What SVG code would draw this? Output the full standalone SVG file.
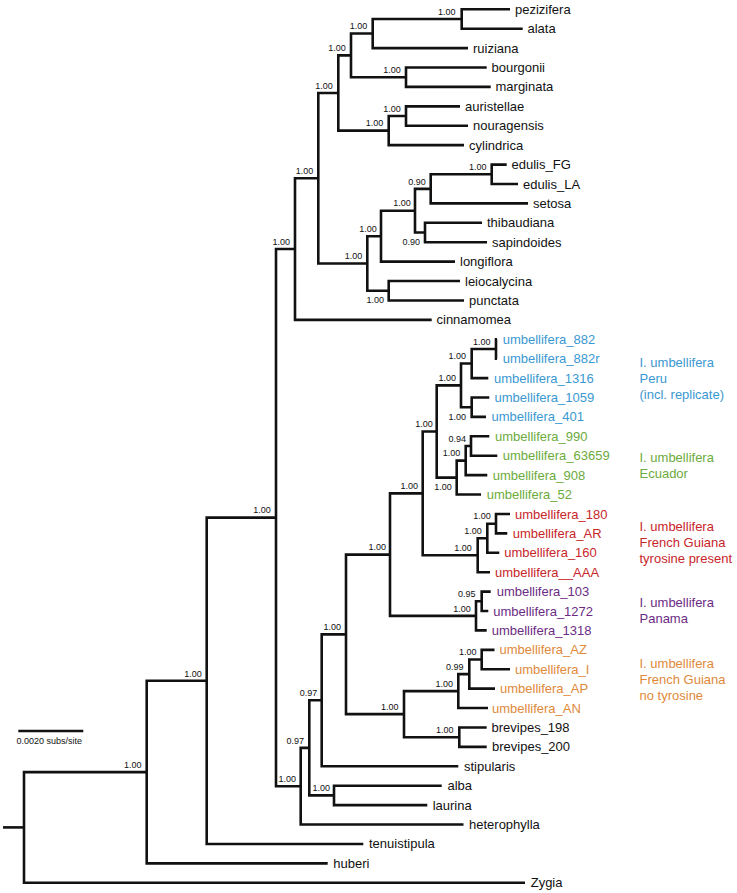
<svg xmlns="http://www.w3.org/2000/svg" width="737" height="893" viewBox="0 0 737 893">
<style>
.e{fill:none;stroke:#111;stroke-width:2.6;stroke-linejoin:miter;stroke-linecap:butt}
.t{font-family:"Liberation Sans",Arial,sans-serif;font-size:13px;fill:#111}
.s{font-family:"Liberation Sans",Arial,sans-serif;font-size:9px;fill:#111;text-anchor:end}
.sc{font-family:"Liberation Sans",Arial,sans-serif;font-size:9px;fill:#111}
.b{fill:#3a98d2}.g{fill:#6cab3c}.r{fill:#c8262a}.p{fill:#6c2c84}.o{fill:#e0893a}
</style>
<rect width="737" height="893" fill="#fff"/>
<g id="connectors">
<path class="e" d="M3,827.4H24"/>
<path class="e" d="M510,9.3H461.7V28.7H522.7"/>
<path class="e" d="M461.7,19H372.7V48.1H468"/>
<path class="e" d="M486.7,67.5H406V86.9H490.7"/>
<path class="e" d="M372.7,33.55H351V77.2H406"/>
<path class="e" d="M460,106.35H406V125.76H468"/>
<path class="e" d="M406,116.05H388.7V145.17H464"/>
<path class="e" d="M351,55.4H338.3V130.6H388.7"/>
<path class="e" d="M506.7,164.58H491.7V183.99H518"/>
<path class="e" d="M491.7,174.3H430.7V203.4H528"/>
<path class="e" d="M482,222.81H425V242.22H487"/>
<path class="e" d="M430.7,188.85H415V232.5H425"/>
<path class="e" d="M415,210.7H381V261.63H455"/>
<path class="e" d="M460,281.04H388.7V300.45H464"/>
<path class="e" d="M381,236.2H367.3V290.75H388.7"/>
<path class="e" d="M338.3,93H318.3V263.5H367.3"/>
<path class="e" d="M318.3,178.25H295V319.86H431.7"/>
<path class="e" d="M497,339.27H496V358.68H497"/>
<path class="e" d="M496,349H471.7V378.09H488.3"/>
<path class="e" d="M489.3,397.5H471.7V416.91H486"/>
<path class="e" d="M471.7,363.5H461V407.2H471.7"/>
<path class="e" d="M489.3,436.32H471V455.73H497.3"/>
<path class="e" d="M471,446H465.7V475.14H487.3"/>
<path class="e" d="M465.7,460.6H456.7V494.55H481"/>
<path class="e" d="M461,385.35H436.7V477.6H456.7"/>
<path class="e" d="M510,513.96H496V533.37H507.3"/>
<path class="e" d="M496,523.7H487.3V552.78H499.3"/>
<path class="e" d="M487.3,538.2H477.7V572.19H490"/>
<path class="e" d="M436.7,431.5H422.7V555.2H477.7"/>
<path class="e" d="M490.7,591.6H481.7V611.01H488.3"/>
<path class="e" d="M481.7,601.3H476V630.42H486.7"/>
<path class="e" d="M422.7,493.35H390V615.9H476"/>
<path class="e" d="M494.5,649.83H481.7V669.24H510"/>
<path class="e" d="M481.7,659.5H469.3V688.65H495"/>
<path class="e" d="M469.3,674.1H458.3V708.06H488"/>
<path class="e" d="M486.7,727.47H459.3V746.88H486.7"/>
<path class="e" d="M458.3,691.1H404V737.2H459.3"/>
<path class="e" d="M390,554.6H346V714.15H404"/>
<path class="e" d="M346,634.4H321.7V766.29H458.3"/>
<path class="e" d="M441.7,785.7H334V805.11H427.3"/>
<path class="e" d="M321.7,700.3H309.3V795.4H334"/>
<path class="e" d="M309.3,747.85H300.7V824.52H463.5"/>
<path class="e" d="M295,249.05H276V786.2H300.7"/>
<path class="e" d="M276,517.6H206.7V843.93H363.3"/>
<path class="e" d="M206.7,680.8H146.7V863.34H327.7"/>
<path class="e" d="M146.7,772.1H24V882.75H525"/>
<path class="e" d="M18.3,731H83.3"/>
</g>
<g id="scale"><text class="sc" x="16.5" y="743.8">0.0020 subs/site</text></g>
<g id="leaves">
<g id="leaf-pezizifera"><text class="t" x="515" y="13.8">pezizifera</text></g>
<g id="leaf-alata"><text class="t" x="527.5" y="33.2">alata</text></g>
<g id="leaf-ruiziana"><text class="t" x="473" y="52.6">ruiziana</text></g>
<g id="leaf-bourgonii"><text class="t" x="491.5" y="72">bourgonii</text></g>
<g id="leaf-marginata"><text class="t" x="495.5" y="91.4">marginata</text></g>
<g id="leaf-auristellae"><text class="t" x="465" y="110.8">auristellae</text></g>
<g id="leaf-nouragensis"><text class="t" x="473" y="130.3">nouragensis</text></g>
<g id="leaf-cylindrica"><text class="t" x="469" y="149.7">cylindrica</text></g>
<g id="leaf-edulis_FG"><text class="t" x="511.5" y="169.1">edulis_FG</text></g>
<g id="leaf-edulis_LA"><text class="t" x="523" y="188.5">edulis_LA</text></g>
<g id="leaf-setosa"><text class="t" x="533" y="207.9">setosa</text></g>
<g id="leaf-thibaudiana"><text class="t" x="487" y="227.3">thibaudiana</text></g>
<g id="leaf-sapindoides"><text class="t" x="492" y="246.7">sapindoides</text></g>
<g id="leaf-longiflora"><text class="t" x="460" y="266.1">longiflora</text></g>
<g id="leaf-leiocalycina"><text class="t" x="465" y="285.5">leiocalycina</text></g>
<g id="leaf-punctata"><text class="t" x="469" y="305">punctata</text></g>
<g id="leaf-cinnamomea"><text class="t" x="436.5" y="324.4">cinnamomea</text></g>
<g id="leaf-umbellifera_882"><text class="t b" x="502.7" y="343.8">umbellifera_882</text></g>
<g id="leaf-umbellifera_882r"><text class="t b" x="502.7" y="363.2">umbellifera_882r</text></g>
<g id="leaf-umbellifera_1316"><text class="t b" x="494" y="382.6">umbellifera_1316</text></g>
<g id="leaf-umbellifera_1059"><text class="t b" x="494.5" y="402">umbellifera_1059</text></g>
<g id="leaf-umbellifera_401"><text class="t b" x="491.5" y="421.4">umbellifera_401</text></g>
<g id="leaf-umbellifera_990"><text class="t g" x="495" y="440.8">umbellifera_990</text></g>
<g id="leaf-umbellifera_63659"><text class="t g" x="502.7" y="460.2">umbellifera_63659</text></g>
<g id="leaf-umbellifera_908"><text class="t g" x="492.7" y="479.6">umbellifera_908</text></g>
<g id="leaf-umbellifera_52"><text class="t g" x="486.7" y="499.1">umbellifera_52</text></g>
<g id="leaf-umbellifera_180"><text class="t r" x="515" y="518.5">umbellifera_180</text></g>
<g id="leaf-umbellifera_AR"><text class="t r" x="512.7" y="537.9">umbellifera_AR</text></g>
<g id="leaf-umbellifera_160"><text class="t r" x="504.3" y="557.3">umbellifera_160</text></g>
<g id="leaf-umbellifera__AAA"><text class="t r" x="495" y="576.7">umbellifera__AAA</text></g>
<g id="leaf-umbellifera_103"><text class="t p" x="496.7" y="596.1">umbellifera_103</text></g>
<g id="leaf-umbellifera_1272"><text class="t p" x="493.3" y="615.5">umbellifera_1272</text></g>
<g id="leaf-umbellifera_1318"><text class="t p" x="491.7" y="634.9">umbellifera_1318</text></g>
<g id="leaf-umbellifera_AZ"><text class="t o" x="499.5" y="654.3">umbellifera_AZ</text></g>
<g id="leaf-umbellifera_I"><text class="t o" x="515" y="673.7">umbellifera_I</text></g>
<g id="leaf-umbellifera_AP"><text class="t o" x="500" y="693.2">umbellifera_AP</text></g>
<g id="leaf-umbellifera_AN"><text class="t o" x="492" y="712.6">umbellifera_AN</text></g>
<g id="leaf-brevipes_198"><text class="t" x="491.5" y="732">brevipes_198</text></g>
<g id="leaf-brevipes_200"><text class="t" x="492" y="751.4">brevipes_200</text></g>
<g id="leaf-stipularis"><text class="t" x="464" y="770.8">stipularis</text></g>
<g id="leaf-alba"><text class="t" x="447.5" y="790.2">alba</text></g>
<g id="leaf-laurina"><text class="t" x="432.7" y="809.6">laurina</text></g>
<g id="leaf-heterophylla"><text class="t" x="469" y="829">heterophylla</text></g>
<g id="leaf-tenuistipula"><text class="t" x="369" y="848.4">tenuistipula</text></g>
<g id="leaf-huberi"><text class="t" x="333.3" y="867.8">huberi</text></g>
<g id="leaf-Zygia"><text class="t" x="530.7" y="887.3">Zygia</text></g>
</g>
<g id="supports">
<text class="s" x="455.5" y="14.7">1.00</text>
<text class="s" x="367.3" y="29.2">1.00</text>
<text class="s" x="345.7" y="51.1">1.00</text>
<text class="s" x="400.7" y="72.9">1.00</text>
<text class="s" x="332.7" y="88.7">1.00</text>
<text class="s" x="400.7" y="111.7">1.00</text>
<text class="s" x="383.3" y="126.3">1.00</text>
<text class="s" x="486.5" y="170">1.00</text>
<text class="s" x="313.3" y="173.9">1.00</text>
<text class="s" x="425.7" y="184.5">0.90</text>
<text class="s" x="410.7" y="206.4">1.00</text>
<text class="s" x="376.7" y="231.9">1.00</text>
<text class="s" x="420" y="245">0.90</text>
<text class="s" x="362.3" y="259.2">1.00</text>
<text class="s" x="384" y="303.2">1.00</text>
<text class="s" x="290" y="244.7">1.00</text>
<text class="s" x="490.5" y="344.7">1.00</text>
<text class="s" x="466" y="359.2">1.00</text>
<text class="s" x="466" y="419.7">1.00</text>
<text class="s" x="456" y="381">1.00</text>
<text class="s" x="466" y="441.7">0.94</text>
<text class="s" x="460.3" y="456.3">1.00</text>
<text class="s" x="451.7" y="490.1">1.00</text>
<text class="s" x="432.7" y="427.2">1.00</text>
<text class="s" x="490.7" y="519.4">1.00</text>
<text class="s" x="481.7" y="533.9">1.00</text>
<text class="s" x="471.7" y="550.9">1.00</text>
<text class="s" x="418" y="489">1.00</text>
<text class="s" x="475.5" y="597">0.95</text>
<text class="s" x="470.7" y="611.6">1.00</text>
<text class="s" x="386" y="550.3">1.00</text>
<text class="s" x="476.5" y="655.2">1.00</text>
<text class="s" x="463.5" y="670.3">0.99</text>
<text class="s" x="453" y="686.8">1.00</text>
<text class="s" x="453.5" y="732.9">1.00</text>
<text class="s" x="398.5" y="709.8">1.00</text>
<text class="s" x="341" y="630.1">1.00</text>
<text class="s" x="317.3" y="696">0.97</text>
<text class="s" x="330" y="791.1">1.00</text>
<text class="s" x="304" y="743.5">0.97</text>
<text class="s" x="296" y="781.9">1.00</text>
<text class="s" x="270.7" y="513.3">1.00</text>
<text class="s" x="201.7" y="676.5">1.00</text>
<text class="s" x="141.5" y="767.8">1.00</text>
</g>
<g id="groups">
<g id="group-peru"><text class="t b" x="639.5" y="366.5">I. umbellifera</text><text class="t b" x="639.5" y="382.5">Peru</text><text class="t b" x="639.5" y="398.5">(incl. replicate)</text></g>
<g id="group-ecuador"><text class="t g" x="639.5" y="461.5">I. umbellifera</text><text class="t g" x="639.5" y="477.5">Ecuador</text></g>
<g id="group-fg-tyrosine"><text class="t r" x="639.5" y="531">I. umbellifera</text><text class="t r" x="639.5" y="547">French Guiana</text><text class="t r" x="639.5" y="563">tyrosine present</text></g>
<g id="group-panama"><text class="t p" x="639.5" y="606.5">I. umbellifera</text><text class="t p" x="639.5" y="622.5">Panama</text></g>
<g id="group-fg-no-tyrosine"><text class="t o" x="639.5" y="667.5">I. umbellifera</text><text class="t o" x="639.5" y="683.5">French Guiana</text><text class="t o" x="639.5" y="699.5">no tyrosine</text></g>
</g>
</svg>
